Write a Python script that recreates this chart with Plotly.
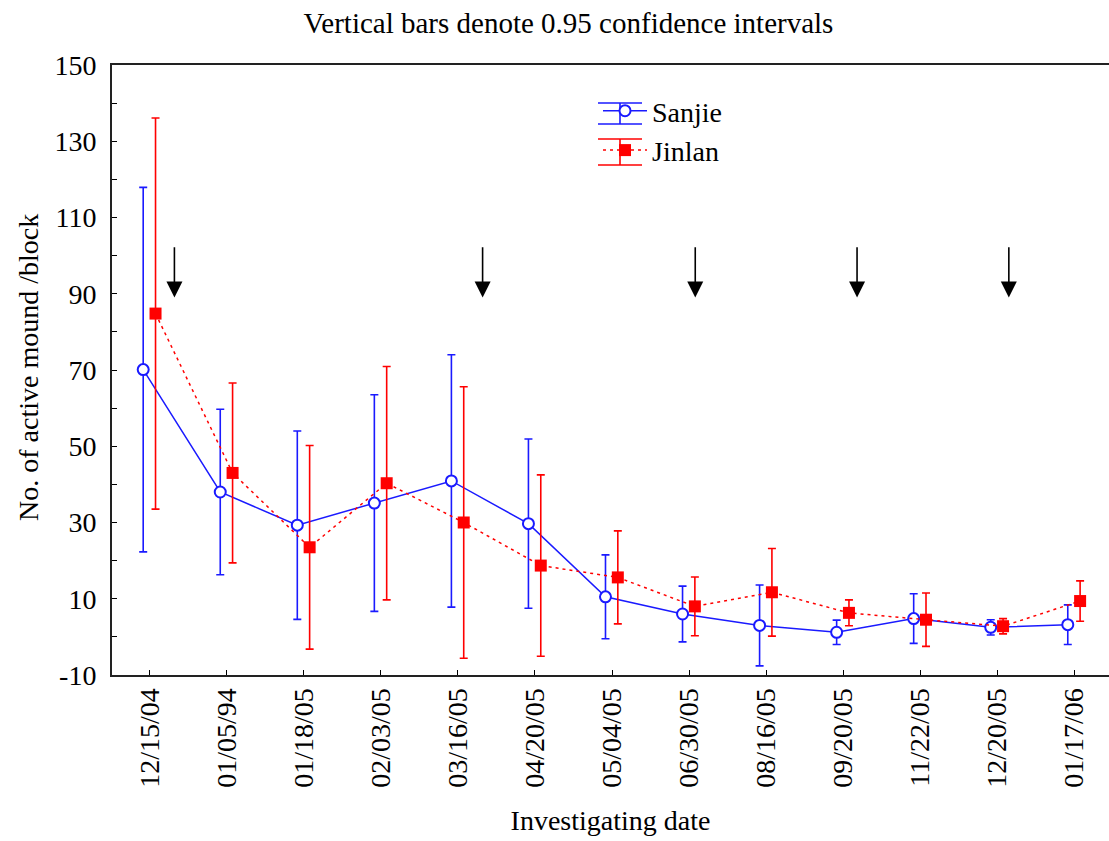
import plotly.graph_objects as go

dates = ["12/15/04", "01/05/94", "01/18/05", "02/03/05", "03/16/05", "04/20/05",
         "05/04/05", "06/30/05", "08/16/05", "09/20/05", "11/22/05", "12/20/05", "01/17/06"]

sanjie_mean = [70.1, 38.0, 29.3, 35.1, 40.9, 29.7, 10.5, 6.0, 3.0, 1.2, 4.8, 2.5, 3.2]
sanjie_ci = [47.8, 21.7, 24.7, 28.4, 33.1, 22.2, 11.0, 7.3, 10.6, 3.2, 6.5, 2.0, 5.2]

jinlan_mean = [84.8, 43.0, 23.5, 40.3, 30.0, 18.7, 15.6, 8.0, 11.7, 6.3, 4.5, 2.8, 9.4]
jinlan_ci = [51.3, 23.6, 26.7, 30.6, 35.6, 23.8, 12.2, 7.7, 11.5, 3.4, 7.0, 2.0, 5.3]

arrow_x = [0.32, 4.32, 7.08, 9.18, 11.15]
arrow_tip = 89.0
arrow_tail = 102.6

y_ticks = [-10, 10, 30, 50, 70, 90, 110, 130, 150]
y_tick_labels = ["-10", "10", "30", "50", "70", "90", "110", "130", "150"]

FONT = "Liberation Serif"
BLUE = "#1a1aff"
RED = "#ff0000"

W, H = 1109, 841
PL, PT, PB = 112, 65, 166
PW, PH = W - PL, H - PT - PB


def px(page_x):
    return (page_x - PL) / PW


def py(page_y):
    return 1 - (page_y - PT) / PH


idx = list(range(len(dates)))
fig = go.Figure()
fig.add_trace(go.Scatter(
    x=[i - 0.085 for i in idx], y=sanjie_mean, name="Sanjie", mode="lines+markers",
    line=dict(color=BLUE, width=1.5),
    marker=dict(symbol="circle", size=11, color="white", line=dict(color=BLUE, width=2)),
    error_y=dict(type="data", array=sanjie_ci, visible=True, color=BLUE, thickness=1.6, width=4),
))
fig.add_trace(go.Scatter(
    x=[i + 0.075 for i in idx], y=jinlan_mean, name="Jinlan", mode="lines+markers",
    line=dict(color=RED, width=1.5, dash="3px,4px"),
    marker=dict(symbol="square", size=12, color=RED, line=dict(color=RED, width=0)),
    error_y=dict(type="data", array=jinlan_ci, visible=True, color=RED, thickness=1.6, width=4),
))

for ax_ in arrow_x:
    fig.add_annotation(x=ax_, y=arrow_tip, ax=ax_, ay=arrow_tail, xref="x", yref="y",
                       axref="x", ayref="y", text="", showarrow=True,
                       arrowhead=2, arrowsize=2.0, arrowwidth=1.6, arrowcolor="black")

# y-axis title placed as a rotated annotation
fig.add_annotation(text="No. of active mound /block", xref="paper", yref="paper",
                   x=px(28), y=py(368), xanchor="center", yanchor="middle",
                   textangle=-90, showarrow=False, font=dict(family=FONT, size=28, color="black"))

# error-bar caps drawn around the legend symbols
legend_caps = [(103, 124, BLUE), (139, 165, RED)]
shapes = []
for top, bot, col in legend_caps:
    for yy in (top, bot):
        shapes.append(dict(type="line", xref="paper", yref="paper", x0=px(598), x1=px(642),
                           y0=py(yy), y1=py(yy), line=dict(color=col, width=1.6)))
    shapes.append(dict(type="line", xref="paper", yref="paper", x0=px(620), x1=px(620),
                       y0=py(top), y1=py(bot), line=dict(color=col, width=1.6)))

fig.update_layout(
    width=W, height=H,
    margin=dict(l=PL, r=0, t=PT, b=PB, autoexpand=False),
    paper_bgcolor="white", plot_bgcolor="white",
    font=dict(family=FONT, size=28, color="black"),
    title=dict(text="Vertical bars denote 0.95 confidence intervals", x=568.5 / W,
               xanchor="center", y=1 - 23 / H, yanchor="middle", yref="container",
               font=dict(family=FONT, size=29, color="black")),
    showlegend=True,
    legend=dict(x=px(598), y=py(86), xanchor="left", yanchor="top", bgcolor="rgba(0,0,0,0)",
                font=dict(family=FONT, size=28), itemwidth=44, tracegroupgap=0),
    shapes=shapes,
)
fig.update_xaxes(
    range=[-0.49, 12.45], tickvals=idx, ticktext=dates, tickangle=-90, automargin=False,
    ticks="inside", ticklen=5, tickwidth=1.2, tickcolor="black",
    showline=True, linecolor="#222", linewidth=2, mirror=True,
    showgrid=False, zeroline=False, ticklabelstandoff=0,
    tickfont=dict(family=FONT, size=28),
    title=dict(text="Investigating date", font=dict(family=FONT, size=28), standoff=24),
)
fig.update_yaxes(
    range=[-10, 150], tickvals=y_ticks, ticktext=y_tick_labels, automargin=False,
    ticks="inside", ticklen=5, tickwidth=1.2, tickcolor="black",
    minor=dict(ticks="inside", dtick=10, tick0=0, ticklen=5, tickwidth=1.2, tickcolor="black"),
    showline=True, linecolor="#222", linewidth=2, mirror=False,
    showgrid=False, zeroline=False, ticklabelstandoff=8,
    tickfont=dict(family=FONT, size=28),
)

fig.write_html("out.html", config={"displayModeBar": False, "displaylogo": False},
               post_script="document.body.style.margin='0px';")
